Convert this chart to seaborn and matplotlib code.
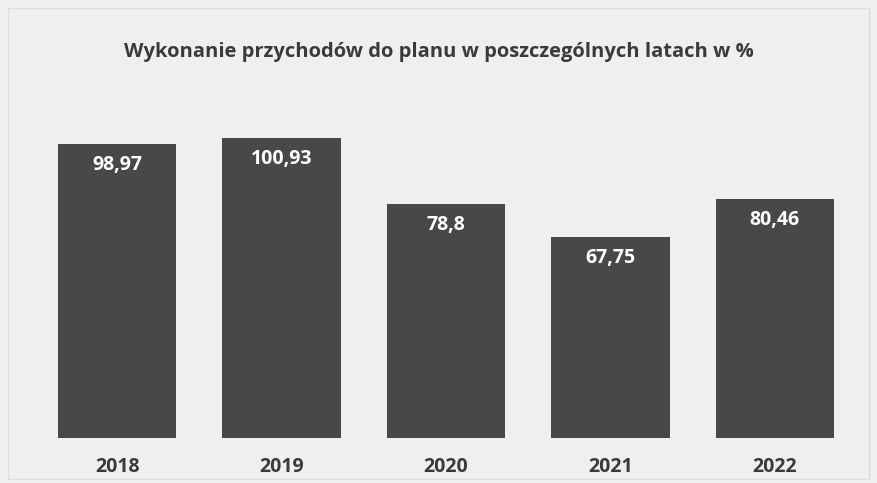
import matplotlib
matplotlib.use("Agg")
import matplotlib.pyplot as plt
import pandas as pd
import seaborn as sns

# ── Data ─────────────────────────────────────────────────────────────
YEARS = ["2018", "2019", "2020", "2021", "2022"]
VALUES = [98.97, 100.93, 78.8, 67.75, 80.46]
TITLE = "Wykonanie przychodów do planu w poszczególnych latach w %"

BAR_COLOR = "#484848"
BG_COLOR = "#efefef"
TEXT_COLOR = "#3a3a3a"

sns.set_style("white")
plt.rcParams["font.family"] = ["Open Sans", "DejaVu Sans"]

df = pd.DataFrame({"year": YEARS, "value": VALUES})

fig = plt.figure(figsize=(8.77, 4.83), dpi=100, facecolor=BG_COLOR)
ax = fig.add_axes([35 / 877, 45 / 483, 822 / 877, 338 / 483])
ax.set_facecolor(BG_COLOR)

sns.barplot(data=df, x="year", y="value", color=BAR_COLOR, width=0.72,
            saturation=1, linewidth=0, ax=ax)

for i, v in enumerate(VALUES):
    label = f"{v}".replace(".", ",")
    ax.annotate(label, (i, v), xytext=(0, -15), textcoords="offset points",
                ha="center", va="center", color="white", fontsize=14,
                fontweight="bold")

ax.set_xlim(-0.5, len(YEARS) - 0.5)
ax.set_ylim(0, 113.8)
ax.set_xlabel("")
ax.set_ylabel("")
ax.set_yticks([])
ax.tick_params(axis="x", length=0, pad=14, labelsize=14, colors=TEXT_COLOR)
for lbl in ax.get_xticklabels():
    lbl.set_fontweight("bold")
for s in ax.spines.values():
    s.set_visible(False)

fig.text(0.5, 1 - 52 / 483, TITLE, ha="center", va="center",
         fontsize=14.5, fontweight="bold", color=TEXT_COLOR)

# thin frame around the chart area
fig.patches.append(plt.Rectangle((8 / 877, 4 / 483), 1 - 16 / 877, 1 - 12 / 483,
                                 transform=fig.transFigure, fill=False,
                                 edgecolor="#dcdcdc", linewidth=1))

fig.savefig("out.png", dpi=100, facecolor=BG_COLOR)
